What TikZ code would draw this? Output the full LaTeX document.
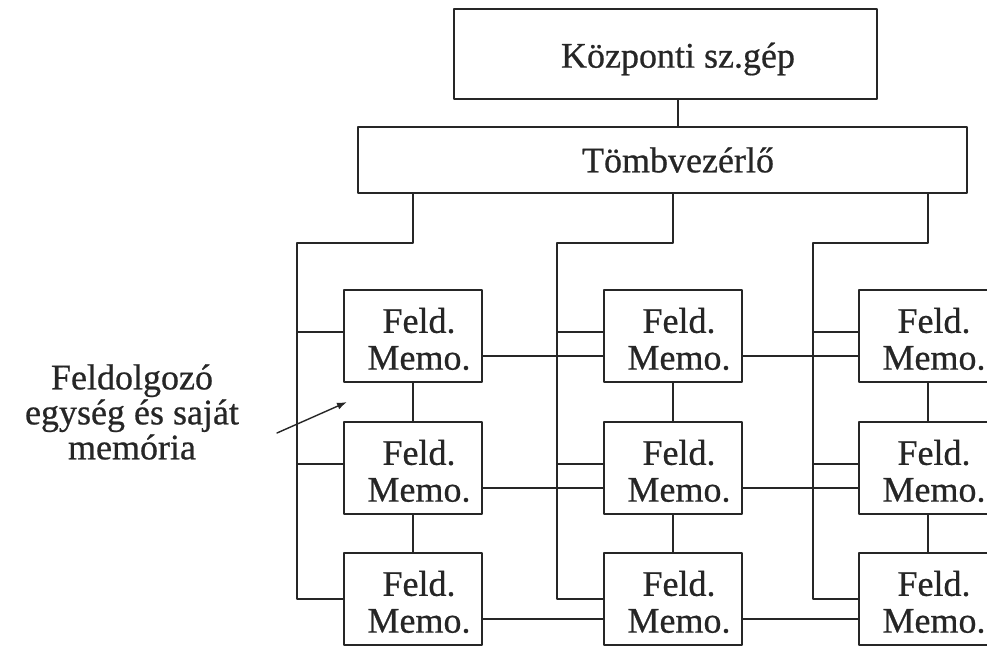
\documentclass[tikz,border=0pt]{standalone}
\usepackage{fontspec}
\setmainfont{Liberation Serif}[UprightFeatures={FakeBold=0.6}]
\usetikzlibrary{arrows.meta}

\tikzset{
  lines/.style={draw=black!85, line width=0.7pt},
  unitbox/.style={lines, minimum width=69pt, minimum height=46pt, inner sep=0pt},
  boxtext/.style={inner sep=0pt, align=center, text=black!85, font=\fontsize{18}{18.4}\selectfont}
}

\begin{document}
\begin{tikzpicture}[x=0.5pt, y=-0.5pt, line cap=round, line join=round]
  \useasboundingbox (0,0) rectangle (987,646);
  \fill[white] (0,0) rectangle (987,646);
  \clip (0,0) rectangle (987,646);

  % Host and array controller
  \node[lines, minimum width=211.5pt, minimum height=45pt, inner sep=0pt] (host) at (665.5,54) {};
  \node[boxtext] (hostT) at (678,59) {Központi sz.gép};
  \node[lines, minimum width=304.5pt, minimum height=33pt, inner sep=0pt] (ctrl) at (662.5,160) {};
  \node[boxtext] (ctrlT) at (678,160) {Tömbvezérlő};

  % 3x3 grid of processing elements
  \foreach \c/\x in {1/413,2/673,3/928}
    \foreach \r/\y in {1/336,2/468,3/599} {
      \node[unitbox] (f\r\c) at (\x,\y) {};
      \node[boxtext] (t\r\c) at ([xshift=3pt,yshift=-1.5pt]f\r\c.center) {Feld.\\Memo.};
    }

  \draw[lines] (host.south -| hostT) -- (ctrl.north -| hostT);

  % Column buses from the controller
  \foreach \c/\bx in {1/297,2/557,3/813} {
    \coordinate (bus\c) at (\bx,243);
    \draw[lines] (ctrl.south -| f1\c) |- (bus\c) |- (f3\c.west);
    \draw[lines] ([yshift=2pt]f1\c.west -| bus\c) -- ([yshift=2pt]f1\c.west);
    \draw[lines] ([yshift=2pt]f2\c.west -| bus\c) -- ([yshift=2pt]f2\c.west);
    % links inside the column
    \draw[lines] (f1\c) -- (f2\c);
    \draw[lines] (f2\c) -- (f3\c);
  }

  % Links along the rows
  \foreach \r in {1,2,3} {
    \draw[lines] ([yshift=-10pt]f\r1.east) -- ([yshift=-10pt]f\r1.east -| f\r2.west);
    \draw[lines] ([yshift=-10pt]f\r2.east) -- ([yshift=-10pt]f\r2.east -| f\r3.west);
  }

  % Caption with pointer
  \node[align=center, text=black!85, font=\fontsize{18}{17.5}\selectfont] (lbl) at (132,412)
    {Feldolgozó\\egység és saját\\memória};
  \coordinate (ptrA) at (277,433);
  \coordinate (ptrB) at (347,402);
  \draw[lines, -{Latex[length=5pt,width=3.5pt]}] (ptrA) -- (ptrB);
\end{tikzpicture}
\end{document}
